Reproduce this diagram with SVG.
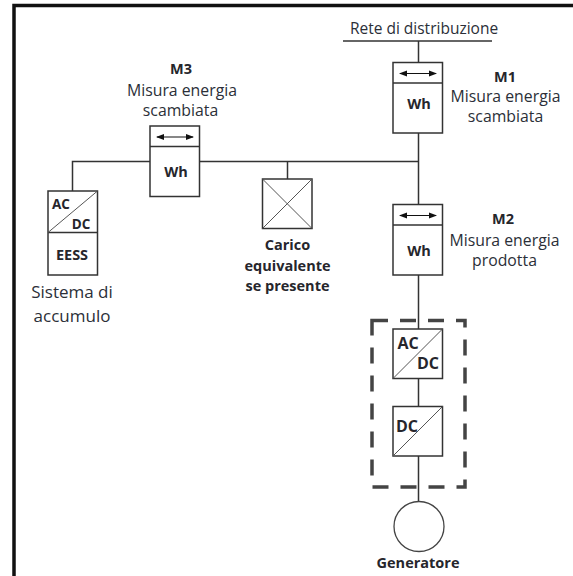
<svg xmlns="http://www.w3.org/2000/svg" width="573" height="576" viewBox="0 0 573 576">
<style>
text{font-family:"Open Sans","Noto Sans","Liberation Sans",sans-serif;text-anchor:middle;fill:#2b2f38}
.l{font-size:15.800px}
.s{font-size:17px}
.r{font-size:15.500px}
.b{font-size:14.500px;font-weight:700;fill:#26262c}
.c{font-size:13.500px;font-weight:700;fill:#26262c}
.k{font-size:16px;font-weight:700;fill:#26262c}
.box{fill:#fff;stroke:#333;stroke-width:1.500}
.ln{fill:none;stroke:#333;stroke-width:1.500}
.thin{fill:none;stroke:#555;stroke-width:1}
</style>
<defs>
<marker id="a" viewBox="0 0 8 8" refX="7" refY="4" markerWidth="8" markerHeight="8" orient="auto-start-reverse" markerUnits="userSpaceOnUse"><path d="M0 1L8 4L0 7Z" fill="#111"/></marker>
<g id="meter"><rect class="box" x="0" y="0" width="49.500" height="70.500"/><path class="ln" d="M0 20.500H49.500"/><path d="M7 11H43" stroke="#111" stroke-width="1.200" marker-start="url(#a)" marker-end="url(#a)"/></g>
</defs>
<rect width="573" height="576" fill="#fff"/>
<path d="M14 576V5.500H573" fill="none" stroke="#111" stroke-width="3.500"/>
<g id="connectors">
<path class="ln" d="M72.500 191V161.500H418.500"/>
<path class="ln" d="M287.500 161.500V179"/>
<path class="ln" d="M418.500 41V501"/>
<path class="ln" d="M343 41H492"/>
</g>
<g id="rete"><text class="r" x="424" y="34">Rete di distribuzione</text></g>
<g id="m1"><use href="#meter" x="393" y="62.500"/><text class="b" x="419" y="109">Wh</text><text class="b" x="505" y="82">M1</text><text class="l" x="505.500" y="102">Misura energia</text><text class="l" x="505.500" y="122">scambiata</text></g>
<g id="m2"><use href="#meter" x="393" y="204.500"/><text class="b" x="419" y="256">Wh</text><text class="b" x="503" y="224">M2</text><text class="l" x="504.500" y="246">Misura energia</text><text class="l" x="504.500" y="266">prodotta</text></g>
<g id="m3"><use href="#meter" x="150" y="126"/><text class="b" x="176" y="177">Wh</text><text class="b" x="181" y="74">M3</text><text class="l" x="182" y="96">Misura energia</text><text class="l" x="180.500" y="116">scambiata</text></g>
<g id="eess"><rect class="box" x="48" y="191" width="49.500" height="84"/><path class="ln" d="M48 232.500H97.500"/><path class="thin" d="M48 232.500L97.500 191"/><text class="c" x="61" y="209">AC</text><text class="c" x="81" y="229">DC</text><text class="b" x="72" y="260">EESS</text><text class="s" x="72" y="298">Sistema di</text><text class="s" x="72" y="322">accumulo</text></g>
<g id="carico"><rect class="box" x="262.500" y="179" width="49.500" height="49.500"/><path class="thin" d="M262.500 179L312 228.500M312 179L262.500 228.500"/><text class="b" x="287.500" y="250">Carico</text><text class="b" x="287.500" y="271">equivalente</text><text class="b" x="287.500" y="291">se presente</text></g>
<g id="inverter"><rect class="box" x="393" y="329" width="49.500" height="49.500"/><path class="thin" d="M393 378.500L442.500 329"/><text class="k" x="408" y="349">AC</text><text class="k" x="428" y="369">DC</text></g>
<g id="dcdc"><rect class="box" x="393" y="406.500" width="49.500" height="49.500"/><path class="thin" d="M393 456L442.500 406.500"/><text class="k" x="407" y="432">DC</text></g>
<g id="gruppo"><rect x="372" y="320.500" width="93" height="166.500" fill="none" stroke="#444" stroke-width="3.500" stroke-dasharray="16 12"/></g>
<g id="generatore"><circle cx="419" cy="526.500" r="25" fill="#fff" stroke="#444" stroke-width="1.300"/><text class="b" x="418" y="568">Generatore</text></g>
</svg>
